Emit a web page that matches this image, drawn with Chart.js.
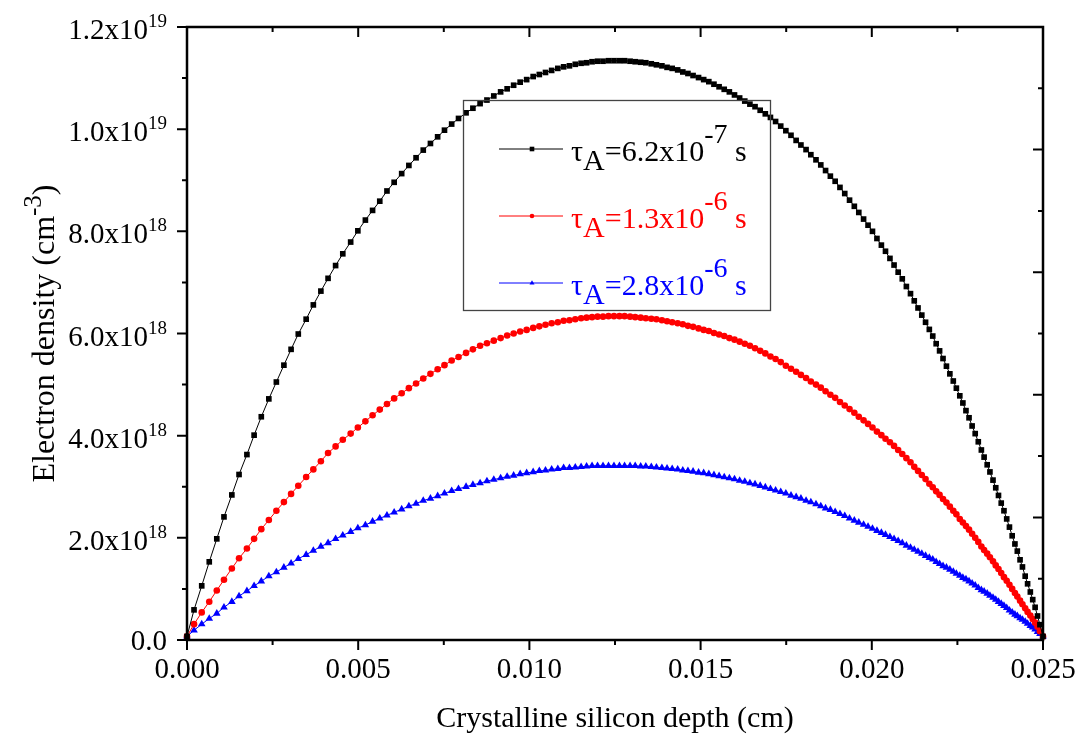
<!DOCTYPE html>
<html>
<head>
<meta charset="utf-8">
<title>Electron density vs depth</title>
<script src="https://cdn.jsdelivr.net/npm/chart.js@4.4.0/dist/chart.umd.min.js"></script>
<style>
    html, body { margin: 0; padding: 0; background: #fff; }
    #wrap { width: 1083px; height: 740px; }
</style>
</head>
<body>
<div id="wrap"><canvas id="densityChart" width="1083" height="740"></canvas></div>
<script>
// depth positions (cm) of the plotted points
const depth = [
    0, 0.000205, 0.00043, 0.00065, 0.00087, 0.00108, 0.00131, 0.00152, 0.00175, 0.00196,
    0.00217, 0.00239, 0.00261, 0.00283, 0.00304, 0.00325, 0.00348, 0.00369, 0.00391, 0.00412,
    0.00434, 0.00455, 0.00478, 0.00499, 0.00521, 0.00542, 0.00563, 0.00584, 0.00605, 0.00627,
    0.00648, 0.00669, 0.00690, 0.00711, 0.00732, 0.00752, 0.00773, 0.00793, 0.00815, 0.00835, 0.00856,
    0.00876, 0.00896, 0.00916, 0.00935, 0.00954, 0.00973, 0.00992, 0.01011, 0.01029, 0.01047, 0.01065,
    0.01083, 0.01100, 0.01117, 0.01134, 0.01151, 0.01167, 0.01183, 0.01199, 0.01215, 0.01231, 0.01247,
    0.01263, 0.01278, 0.01294, 0.01309, 0.01325, 0.01340, 0.01356, 0.01371, 0.01387, 0.01402, 0.01417,
    0.01433, 0.01448, 0.01463, 0.01478, 0.01494, 0.01509, 0.01524, 0.01539, 0.01554, 0.01569, 0.01584,
    0.01599, 0.01614, 0.01629, 0.01644, 0.01659, 0.01674, 0.01689, 0.01704, 0.01719, 0.01734, 0.01749,
    0.01764, 0.01779, 0.01793, 0.01808, 0.01822, 0.01837, 0.01851, 0.01865, 0.01879, 0.01893, 0.01907,
    0.01921, 0.01935, 0.01949, 0.01962, 0.01976, 0.01989, 0.02002,
    0.02015, 0.02028, 0.02040, 0.02053, 0.02065, 0.02077, 0.02089, 0.02101, 0.02113, 0.02124, 0.02135,
    0.02146, 0.02157, 0.02168, 0.02178, 0.02188, 0.02198,
    0.02208, 0.02218, 0.02228, 0.02238, 0.02247, 0.02257, 0.02266, 0.02275, 0.02284, 0.02293, 0.02302,
    0.02311, 0.02320, 0.02328, 0.02337, 0.02345, 0.02354, 0.02362, 0.02370, 0.02378, 0.02386, 0.02394,
    0.02402, 0.02410, 0.02418, 0.02425, 0.02433, 0.02440, 0.02448, 0.02455, 0.02463, 0.02470, 0.02477,
    0.02484, 0.02491, 0.02500
];

// electron density, units of 1e18 cm^-3
const densityTau62e7 = [
    0.07, 0.59, 1.06, 1.53, 1.98, 2.41, 2.84, 3.24, 3.63, 4.01,
    4.37, 4.72, 5.05, 5.38, 5.69, 5.99, 6.28, 6.56, 6.83, 7.08,
    7.33, 7.56, 7.79, 8.01, 8.22, 8.41, 8.59, 8.79, 8.96, 9.13,
    9.29, 9.44, 9.59, 9.72, 9.85, 9.98, 10.10, 10.21, 10.32, 10.41, 10.50,
    10.57, 10.65, 10.73, 10.79, 10.86, 10.92, 10.97, 11.03, 11.07, 11.11, 11.15,
    11.19, 11.22, 11.24, 11.27, 11.29, 11.30, 11.32, 11.33, 11.33, 11.34, 11.34,
    11.34, 11.34, 11.33, 11.32, 11.31, 11.30, 11.28, 11.26, 11.24, 11.21, 11.19,
    11.16, 11.12, 11.09, 11.05, 11.01, 10.97, 10.93, 10.88, 10.83, 10.78, 10.73,
    10.67, 10.61, 10.55, 10.49, 10.44, 10.37, 10.30, 10.23, 10.15, 10.06, 9.97,
    9.88, 9.78, 9.69, 9.60, 9.50, 9.40, 9.30, 9.19, 9.08, 8.98, 8.86,
    8.74, 8.61, 8.49, 8.37, 8.24, 8.12, 8.00,
    7.86, 7.73, 7.61, 7.47, 7.34, 7.20, 7.07, 6.92, 6.78, 6.64, 6.50,
    6.36, 6.22, 6.08, 5.95, 5.80, 5.66,
    5.51, 5.36, 5.21, 5.07, 4.93, 4.78, 4.64, 4.49, 4.35, 4.19, 4.04,
    3.88, 3.72, 3.58, 3.43, 3.29, 3.13, 2.98, 2.83, 2.68, 2.53, 2.37,
    2.21, 2.04, 1.88, 1.74, 1.57, 1.43, 1.25, 1.10, 0.94, 0.79, 0.64,
    0.47, 0.30, 0.07
];

const densityTau13e6 = [
    0.07, 0.31, 0.54, 0.75, 0.97, 1.18, 1.40, 1.60, 1.79, 1.98,
    2.17, 2.35, 2.53, 2.70, 2.86, 3.02, 3.19, 3.34, 3.50, 3.66,
    3.79, 3.92, 4.04, 4.16, 4.28, 4.40, 4.51, 4.62, 4.73, 4.83,
    4.93, 5.02, 5.12, 5.21, 5.30, 5.38, 5.47, 5.54, 5.62, 5.69, 5.76,
    5.81, 5.86, 5.91, 5.96, 6.00, 6.04, 6.07, 6.11, 6.14, 6.17, 6.20,
    6.22, 6.25, 6.26, 6.28, 6.30, 6.31, 6.32, 6.33, 6.33, 6.34, 6.34,
    6.34, 6.34, 6.33, 6.32, 6.31, 6.30, 6.29, 6.28, 6.26, 6.24, 6.22,
    6.20, 6.18, 6.15, 6.13, 6.10, 6.07, 6.05, 6.01, 5.98, 5.95, 5.91,
    5.88, 5.84, 5.80, 5.76, 5.71, 5.66, 5.61, 5.55, 5.50, 5.44, 5.37,
    5.31, 5.25, 5.19, 5.13, 5.06, 5.00, 4.94, 4.87, 4.80, 4.74, 4.66,
    4.59, 4.52, 4.45, 4.37, 4.30, 4.23, 4.16,
    4.08, 4.01, 3.94, 3.87, 3.80, 3.72, 3.64, 3.56, 3.48, 3.39, 3.31,
    3.23, 3.15, 3.06, 2.99, 2.91, 2.84,
    2.76, 2.69, 2.61, 2.53, 2.46, 2.37, 2.30, 2.23, 2.16, 2.08, 2.00,
    1.92, 1.83, 1.76, 1.69, 1.62, 1.54, 1.46, 1.39, 1.31, 1.23, 1.16,
    1.08, 1.00, 0.92, 0.85, 0.77, 0.70, 0.62, 0.55, 0.48, 0.41, 0.34,
    0.26, 0.17, 0.07
];

const densityTau28e6 = [
    0.07, 0.19, 0.31, 0.42, 0.52, 0.64, 0.75, 0.86, 0.96, 1.06,
    1.15, 1.25, 1.33, 1.42, 1.50, 1.59, 1.67, 1.75, 1.83, 1.90,
    1.98, 2.05, 2.12, 2.19, 2.25, 2.32, 2.38, 2.44, 2.50, 2.56,
    2.62, 2.67, 2.73, 2.77, 2.82, 2.87, 2.92, 2.96, 3.00, 3.04, 3.07,
    3.11, 3.14, 3.17, 3.20, 3.22, 3.25, 3.27, 3.29, 3.31, 3.32, 3.34,
    3.35, 3.37, 3.37, 3.38, 3.39, 3.40, 3.41, 3.41, 3.41, 3.41, 3.41,
    3.41, 3.41, 3.41, 3.41, 3.40, 3.40, 3.39, 3.38, 3.37, 3.36, 3.35,
    3.34, 3.32, 3.31, 3.30, 3.28, 3.27, 3.25, 3.23, 3.21, 3.19, 3.17,
    3.15, 3.12, 3.10, 3.07, 3.05, 3.02, 2.99, 2.96, 2.93, 2.90, 2.87,
    2.83, 2.80, 2.77, 2.73, 2.70, 2.66, 2.62, 2.58, 2.55, 2.51, 2.47,
    2.43, 2.38, 2.34, 2.30, 2.26, 2.22, 2.18,
    2.14, 2.10, 2.06, 2.02, 1.98, 1.94, 1.90, 1.85, 1.81, 1.77, 1.73,
    1.69, 1.65, 1.61, 1.58, 1.53, 1.49,
    1.45, 1.42, 1.38, 1.34, 1.30, 1.26, 1.22, 1.19, 1.15, 1.11, 1.07,
    1.02, 0.98, 0.95, 0.91, 0.87, 0.83, 0.79, 0.75, 0.71, 0.67, 0.63,
    0.58, 0.54, 0.50, 0.47, 0.43, 0.40, 0.36, 0.32, 0.28, 0.25, 0.21,
    0.16, 0.12, 0.07
];

const seriesLabels = ['τ_{A}=6.2x10^{-7} s', 'τ_{A}=1.3x10^{-6} s', 'τ_{A}=2.8x10^{-6} s'];

const xTickValues = [0, 0.005, 0.010, 0.015, 0.020, 0.025];
const xTickLabels = ['0.000', '0.005', '0.010', '0.015', '0.020', '0.025'];
const yTickValues = [0, 2, 4, 6, 8, 10, 12];
const yTickLabels = ['0.0', '2.0x10^{18}', '4.0x10^{18}', '6.0x10^{18}', '8.0x10^{18}', '1.0x10^{19}', '1.2x10^{19}'];

const xTitle = 'Crystalline silicon depth (cm)';
const yTitle = 'Electron density (cm^{-3})';

const FONT = '"Liberation Serif", "Times New Roman", serif';

// split 'a_{b}c^{d}' into plain / sub / sup pieces
function parseRich(str) {
    const parts = [];
    const re = /_\{([^}]*)\}|\^\{([^}]*)\}|([^_^]+)/g;
    let m;
    while ((m = re.exec(str)) !== null) {
        if (m[1] !== undefined) parts.push({ text: m[1], kind: 'sub' });
        else if (m[2] !== undefined) parts.push({ text: m[2], kind: 'sup' });
        else parts.push({ text: m[3], kind: 'base' });
    }
    return parts;
}

// draw rich text; style gives sizes and baseline shifts per kind
function drawRich(ctx, str, x, y, align, style) {
    const parts = parseRich(str);
    let total = 0;
    parts.forEach(p => {
        ctx.font = style[p.kind].size + 'px ' + FONT;
        p.w = ctx.measureText(p.text).width;
        total += p.w;
    });
    let cx = x;
    if (align === 'right') cx = x - total;
    else if (align === 'center') cx = x - total / 2;
    ctx.textAlign = 'left';
    ctx.textBaseline = 'alphabetic';
    parts.forEach(p => {
        ctx.font = style[p.kind].size + 'px ' + FONT;
        ctx.fillText(p.text, cx, y + style[p.kind].dy);
        cx += p.w;
    });
}

function drawMarker(ctx, kind, x, y, r, color) {
    ctx.fillStyle = color;
    ctx.beginPath();
    if (kind === 'rect') {
        ctx.rect(x - r, y - r, 2 * r, 2 * r);
    } else if (kind === 'circle') {
        ctx.arc(x, y, r, 0, Math.PI * 2);
    } else {
        ctx.moveTo(x, y - r * 1.2);
        ctx.lineTo(x + r * 1.1, y + r * 0.7);
        ctx.lineTo(x - r * 1.1, y + r * 0.7);
        ctx.closePath();
    }
    ctx.fill();
}

const seriesColors = ['#000000', '#ff0000', '#0000ff'];
const seriesPoints = ['rect', 'circle', 'triangle'];
const seriesRadius = [4, 3.3, 4.4];

const framePlugin = {
    id: 'originFrame',
    afterDraw(chart) {
        const ctx = chart.ctx;
        const area = chart.chartArea;
        const xs = chart.scales.x;
        const ys = chart.scales.y;
        const yr = chart.scales.yRight;
        ctx.save();

        // axis box
        ctx.strokeStyle = '#000';
        ctx.lineWidth = 2.5;
        ctx.strokeRect(area.left, area.top, area.right - area.left, area.bottom - area.top);

        ctx.lineWidth = 2;
        ctx.beginPath();
        // bottom (outward) and top (inward) ticks, minor ones halfway
        for (let i = 0; i < xTickValues.length; i++) {
            const px = xs.getPixelForValue(xTickValues[i]);
            ctx.moveTo(px, area.bottom); ctx.lineTo(px, area.bottom + 10);
            ctx.moveTo(px, area.top); ctx.lineTo(px, area.top + 10);
            if (i < xTickValues.length - 1) {
                const pm = xs.getPixelForValue((xTickValues[i] + xTickValues[i + 1]) / 2);
                ctx.moveTo(pm, area.bottom); ctx.lineTo(pm, area.bottom + 5);
                ctx.moveTo(pm, area.top); ctx.lineTo(pm, area.top + 5);
            }
        }
        // left ticks (outward)
        for (let i = 0; i < yTickValues.length; i++) {
            const py = ys.getPixelForValue(yTickValues[i]);
            ctx.moveTo(area.left - 10, py); ctx.lineTo(area.left, py);
            if (i < yTickValues.length - 1) {
                const pm = ys.getPixelForValue((yTickValues[i] + yTickValues[i + 1]) / 2);
                ctx.moveTo(area.left - 5, pm); ctx.lineTo(area.left, pm);
            }
        }
        // right ticks (inward), own scale
        for (let v = yr.min; v <= yr.max; v++) {
            const py = yr.getPixelForValue(v);
            const len = v % 2 === 0 ? 10 : 5;
            ctx.moveTo(area.right - len, py); ctx.lineTo(area.right, py);
        }
        ctx.stroke();

        ctx.fillStyle = '#000';
        // x tick labels
        ctx.font = '29px ' + FONT;
        ctx.textAlign = 'center';
        ctx.textBaseline = 'alphabetic';
        xTickValues.forEach((v, i) => {
            ctx.fillText(xTickLabels[i], xs.getPixelForValue(v), area.bottom + 38);
        });
        // y tick labels with exponents
        const tickStyle = { base: { size: 29, dy: 0 }, sup: { size: 19, dy: -12 }, sub: { size: 19, dy: 6 } };
        yTickValues.forEach((v, i) => {
            const py = ys.getPixelForValue(v);
            const lab = yTickLabels[i];
            const shift = lab.indexOf('^') >= 0 ? 12 : 10;
            drawRich(ctx, lab, area.left - 20, py + shift, 'right', tickStyle);
        });

        // axis titles
        const xTitleStyle = { base: { size: 30, dy: 0 }, sup: { size: 22, dy: -12 }, sub: { size: 22, dy: 6 } };
        drawRich(ctx, xTitle, (area.left + area.right) / 2, 727, 'center', xTitleStyle);
        const yTitleStyle = { base: { size: 32, dy: 0 }, sup: { size: 25, dy: -13 }, sub: { size: 25, dy: 6 } };
        ctx.save();
        ctx.translate(54, (area.top + area.bottom) / 2);
        ctx.rotate(-Math.PI / 2);
        drawRich(ctx, yTitle, 0, 0, 'center', yTitleStyle);
        ctx.restore();

        // legend box
        ctx.strokeStyle = '#444';
        ctx.lineWidth = 1.3;
        ctx.strokeRect(463.5, 100.5, 307, 210);
        const rowY = [149, 216, 283];
        const legendStyle = { base: { size: 30, dy: 12 }, sub: { size: 30, dy: 21 }, sup: { size: 28, dy: -6 } };
        seriesLabels.forEach((lab, i) => {
            const y = rowY[i];
            ctx.strokeStyle = seriesColors[i];
            ctx.lineWidth = 1;
            ctx.beginPath();
            ctx.moveTo(499, y); ctx.lineTo(563, y);
            ctx.stroke();
            drawMarker(ctx, seriesPoints[i], 532, y, 2.3, seriesColors[i]);
            ctx.fillStyle = seriesColors[i];
            drawRich(ctx, lab, 571, y, 'left', legendStyle);
        });
        ctx.restore();
    }
};

function toPoints(values) {
    return depth.map((d, i) => ({ x: d, y: values[i] }));
}

const seriesValues = [densityTau62e7, densityTau13e6, densityTau28e6];

const ctx = document.getElementById('densityChart').getContext('2d');
const densityChart = new Chart(ctx, {
    type: 'line',
    data: {
        datasets: seriesValues.map((vals, i) => ({
            label: seriesLabels[i],
            data: toPoints(vals),
            borderColor: seriesColors[i],
            backgroundColor: seriesColors[i],
            borderWidth: 1,
            pointStyle: seriesPoints[i],
            pointRadius: seriesRadius[i],
            pointBorderWidth: 0,
            tension: 0,
            fill: false,
            clip: 6,
            order: i
        }))
    },
    options: {
        responsive: false,
        animation: false,
        events: [],
        layout: { autoPadding: false, padding: { top: 27, right: 40, left: 0, bottom: 0 } },
        plugins: {
            legend: { display: false },
            tooltip: { enabled: false }
        },
        scales: {
            x: {
                type: 'linear',
                min: 0,
                max: 0.025,
                ticks: { display: false, stepSize: 0.005 },
                grid: { display: false },
                border: { display: false },
                afterFit(scale) { scale.height = 100; }
            },
            y: {
                min: 0,
                max: 12,
                ticks: { display: false, stepSize: 2 },
                grid: { display: false },
                border: { display: false },
                afterFit(scale) { scale.width = 187; }
            },
            yRight: {
                position: 'right',
                min: 0,
                max: 10,
                ticks: { display: false, stepSize: 1 },
                grid: { display: false },
                border: { display: false },
                afterFit(scale) { scale.width = 0; }
            }
        }
    },
    plugins: [framePlugin]
});
</script>
</body>
</html>
